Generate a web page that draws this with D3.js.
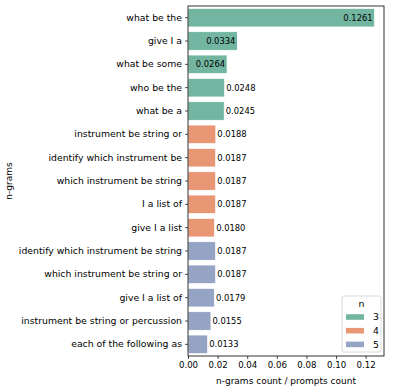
<!DOCTYPE html>
<html>
<head>
<meta charset="utf-8">
<script src="https://cdn.jsdelivr.net/npm/d3@7"></script>
<style>
  body { margin: 0; background: #fff; }
  svg { font-family: "DejaVu Sans", sans-serif; }
</style>
</head>
<body>
<script>
// n-gram labels, top to bottom
var ngrams = [
  "what be the", "give I a", "what be some", "who be the", "what be a",
  "instrument be string or", "identify which instrument be", "which instrument be string",
  "I a list of", "give I a list",
  "identify which instrument be string", "which instrument be string or",
  "give I a list of", "instrument be string or percussion", "each of the following as"
];
var ratios = [0.1261, 0.0334, 0.0264, 0.0248, 0.0245,
  0.0188, 0.0187, 0.0187, 0.0187, 0.0180,
  0.0187, 0.0187, 0.0179, 0.0155, 0.0133];
var nValues = [3, 3, 3, 3, 3, 4, 4, 4, 4, 4, 5, 5, 5, 5, 5];
var nLevels = [3, 4, 5];
var xTicks = [0, 0.02, 0.04, 0.06, 0.08, 0.10, 0.12];

var W = 393, H = 392;
var margin = {top: 6, right: 9, bottom: 36, left: 188};
var iw = W - margin.left - margin.right,
    ih = H - margin.top - margin.bottom;
var fsY = 9.3, fsX = 8.6, fsVal = 8.4, fsLab = 9;

var rows = ngrams.map(function(d, i) { return {label: d, v: ratios[i], n: nValues[i], i: i}; });

var color = d3.scaleOrdinal()
  .domain(nLevels)
  .range(["#72b6a1", "#e99675", "#95a3c4"]);

var x = d3.scaleLinear()
  .domain([0, d3.max(ratios) * 1.05])
  .range([0, iw]);

var y = d3.scaleBand()
  .domain(d3.range(ngrams.length))
  .range([0, ih])
  .paddingInner(0.2)
  .paddingOuter(0.1);

var svg = d3.select("body").append("svg")
  .attr("width", W)
  .attr("height", H);

var g = svg.append("g")
  .attr("transform", "translate(" + margin.left + "," + margin.top + ")");

// bars
g.selectAll("rect.bar")
  .data(rows)
  .enter().append("rect")
    .attr("class", "bar")
    .attr("x", 0)
    .attr("y", function(d) { return y(d.i); })
    .attr("width", function(d) { return x(d.v); })
    .attr("height", y.bandwidth())
    .attr("fill", function(d) { return color(d.n); })
    .attr("stroke", "#fff")
    .attr("stroke-width", 0.8);

// value labels: inside for the long bars, outside otherwise
g.selectAll("text.val")
  .data(rows)
  .enter().append("text")
    .attr("class", "val")
    .attr("x", function(d) { return d.i < 3 ? x(d.v) - 2 : x(d.v) + 1.5; })
    .attr("y", function(d) { return y(d.i) + y.bandwidth() / 2; })
    .attr("dy", "0.35em")
    .attr("text-anchor", function(d) { return d.i < 3 ? "end" : "start"; })
    .style("font-size", fsVal + "px")
    .attr("fill", "#000")
    .text(function(d) { return d.v.toFixed(4); });

// axes
var xAxis = g.append("g")
  .attr("transform", "translate(0," + ih + ")")
  .call(d3.axisBottom(x).tickValues(xTicks).tickFormat(d3.format(".2f")).tickSize(3).tickPadding(3));

var yAxis = g.append("g")
  .call(d3.axisLeft(y).tickFormat(function(i) { return ngrams[i]; }).tickSize(3).tickPadding(3));

xAxis.selectAll("text").style("font-size", fsX + "px");
yAxis.selectAll("text").style("font-size", fsY + "px");
[xAxis, yAxis].forEach(function(a) {
  a.select(".domain").remove();
  a.selectAll("text").attr("fill", "#000").style("font-family", "DejaVu Sans");
  a.selectAll("line").attr("stroke", "#000").attr("stroke-width", 0.7);
});

// frame
g.append("rect")
  .attr("width", iw)
  .attr("height", ih)
  .attr("fill", "none")
  .attr("stroke", "#000")
  .attr("stroke-width", 0.8);

// axis titles
svg.append("text")
  .attr("x", margin.left + iw / 2)
  .attr("y", H - 8)
  .attr("text-anchor", "middle")
  .style("font-size", fsLab + "px")
  .text("n-grams count / prompts count");

svg.append("text")
  .attr("transform", "translate(12," + (margin.top + ih / 2) + ") rotate(-90)")
  .attr("text-anchor", "middle")
  .style("font-size", fsLab + "px")
  .text("n-grams");

// legend
var lg = svg.append("g").attr("transform", "translate(342,296)");
lg.append("rect")
  .attr("width", 39)
  .attr("height", 56)
  .attr("rx", 2)
  .attr("fill", "#fff")
  .attr("fill-opacity", 0.8)
  .attr("stroke", "#d0d0d0")
  .attr("stroke-width", 0.8);
lg.append("text")
  .attr("x", 19.5)
  .attr("y", 7.5)
  .attr("dy", "0.35em")
  .attr("text-anchor", "middle")
  .style("font-size", fsY + "px")
  .text("n");
var items = lg.selectAll("g.item")
  .data(nLevels)
  .enter().append("g")
    .attr("class", "item")
    .attr("transform", function(d, i) { return "translate(4," + (21 + i * 13.7) + ")"; });
items.append("rect")
  .attr("y", -2.8)
  .attr("width", 18)
  .attr("height", 5.6)
  .attr("fill", function(d) { return color(d); });
items.append("text")
  .attr("x", 27)
  .attr("dy", "0.35em")
  .style("font-size", fsY + "px")
  .text(function(d) { return d; });
</script>
</body>
</html>
